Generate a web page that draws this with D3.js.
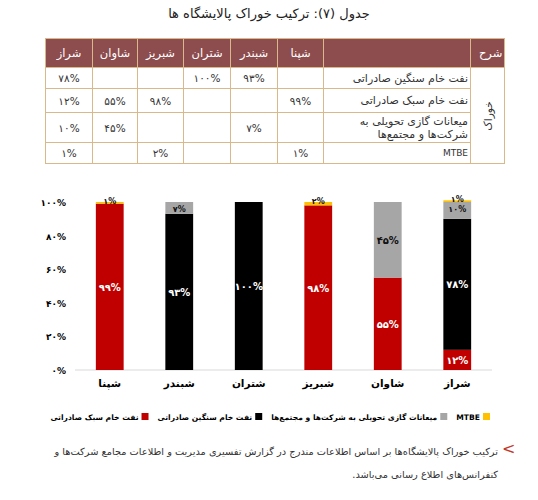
<!DOCTYPE html>
<html><head><meta charset="utf-8">
<script src="https://cdn.jsdelivr.net/npm/d3@7"></script>
<style>
body{margin:0;background:#fff;font-family:"DejaVu Sans","Noto Sans",sans-serif;}
#wrap{position:relative;width:538px;height:500px;overflow:hidden}
#title{position:absolute;top:6px;left:0;width:538px;text-align:center;font-size:13px;direction:rtl;color:#222}
table{position:absolute;left:45px;top:38px;border-collapse:collapse;table-layout:fixed;font-size:10.5px;color:#333}
td,th{border:1px solid #d9b98a;padding:0 2px;text-align:center}
th{background:#8d4c4d;color:#fff;font-weight:normal;height:28px;font-size:11.5px}
td.desc{text-align:right;direction:rtl;font-size:11px;line-height:13px}
#arrow{position:absolute;left:502px;top:439px;color:#c0392b;font-size:16px}
#note{position:absolute;left:40px;top:440px;width:458px;direction:rtl;font-size:9.8px;line-height:23px;color:#333}
svg{position:absolute;left:0;top:0}
</style></head><body>
<div id="wrap">
<div id="title">جدول (۷): ترکیب خوراک پالایشگاه ها</div>
<table id="tbl"></table>
<svg id="chart" width="538" height="500"></svg>
<div id="arrow">&lt;</div>
<div id="note">ترکیب خوراک پالایشگاه‌ها بر اساس اطلاعات مندرج در گزارش تفسیری مدیریت و اطلاعات مجامع شرکت‌ها و کنفرانس‌های اطلاع رسانی می‌باشد.</div>
</div>
<script>
const refineries = ["شپنا", "شبندر", "شتران", "شبریز", "شاوان", "شراز"];
const seriesNames = ["نفت خام سبک صادراتی", "نفت خام سنگین صادراتی", "میعانات گازی تحویلی به شرکت‌ها و مجتمع‌ها", "MTBE"];
const tableRowNames = ["نفت خام سنگین صادراتی", "نفت خام سبک صادراتی", "میعانات گازی تحویلی به شرکت‌ها و مجتمع‌ها", "MTBE"];
const lightCrude = [99, 0, 0, 98, 55, 12];
const heavyCrude = [0, 93, 100, 0, 0, 78];
const gasCond = [0, 7, 0, 0, 45, 10];
const mtbe = [1, 0, 0, 2, 0, 1];
const yTicks = [0, 20, 40, 60, 80, 100];
const colors = ["#c00000", "#000000", "#a6a6a6", "#ffc000"];

const fa = v => String(v).replace(/\d/g, d => "۰۱۲۳۴۵۶۷۸۹"[d]);
const pct = v => fa(v) + "%";

// table
const tbl = d3.select("#tbl");
const colW = [47, 45, 46, 47, 47, 46, 147, 30];
tbl.append("colgroup").selectAll("col").data(colW).join("col").style("width", d => d + "px");
const hdr = tbl.append("tr");
refineries.slice().reverse().forEach(r => hdr.append("th").text(r));
hdr.append("th");
hdr.append("th").style("text-align", "right").text("شرح");
const rowVals = [heavyCrude, lightCrude, gasCond, mtbe];
const rowH = [21, 24, 30, 21];
rowVals.forEach((vals, i) => {
  const tr = tbl.append("tr").style("height", rowH[i] + "px");
  vals.slice().reverse().forEach(v => tr.append("td").text(v ? pct(v) : ""));
  tr.append("td").attr("class", "desc").style("font-size", i == 3 ? "9px" : null).text(tableRowNames[i]);
  if (i == 0) tr.append("td").attr("rowspan", 4)
    .append("div").style("transform", "rotate(-90deg)").style("white-space", "nowrap").text("خوراک");
});

// chart
const svg = d3.select("#chart");
const x = d3.scaleBand().domain(refineries).range([75, 492]).paddingInner(0.6).paddingOuter(0.3);
const y = d3.scaleLinear().domain([0, 100]).range([370, 202]);
const data = refineries.map((r, i) => ({r, s0: lightCrude[i], s1: heavyCrude[i], s2: gasCond[i], s3: mtbe[i]}));
const stack = d3.stack().keys(["s0", "s1", "s2", "s3"])(data);

svg.append("line").attr("x1", 75).attr("x2", 492).attr("y1", y(0)).attr("y2", y(0)).attr("stroke", "#d9d9d9");
svg.append("g").selectAll("text").data(yTicks).join("text")
  .attr("x", 66).attr("y", d => y(d) + 4).attr("text-anchor", "end")
  .style("font-size", "9px").style("font-weight", "bold").text(d => pct(d));

stack.forEach((layer, k) => {
  const g = svg.append("g");
  g.selectAll("rect").data(layer).join("rect")
    .attr("x", d => x(d.data.r)).attr("width", x.bandwidth())
    .attr("y", d => y(d[1])).attr("height", d => y(d[0]) - y(d[1]))
    .attr("fill", colors[k]);
  g.selectAll("text").data(layer.filter(d => d[1] > d[0])).join("text")
    .attr("x", d => x(d.data.r) + x.bandwidth() / 2)
    .attr("y", d => k == 3 ? y(d[1]) + 2 : (d[1] - d[0] < 12 ? y(d[1]) + 10 : y((d[0] + d[1]) / 2) + 4))
    .attr("text-anchor", "middle").style("font-weight", "bold")
    .style("font-size", d => d[1] - d[0] < 12 ? "8px" : "10px")
    .attr("fill", k < 2 ? "#fff" : "#111")
    .text(d => pct(d[1] - d[0]));
});

svg.append("g").selectAll("text").data(refineries).join("text")
  .attr("x", d => x(d) + x.bandwidth() / 2).attr("y", 387).attr("text-anchor", "middle")
  .style("font-size", "10.5px").style("font-weight", "bold").text(d => d);

// legend laid out right-to-left starting from the MTBE item
const legend = svg.append("g");
let lx = 490;
seriesNames.slice().reverse().forEach((name, j) => {
  const i = seriesNames.length - 1 - j;
  legend.append("rect").attr("x", lx - 7).attr("y", 413).attr("width", 7).attr("height", 7).attr("fill", colors[i]);
  const t = legend.append("text").attr("x", lx - 10).attr("y", 420).attr("text-anchor", "start")
    .attr("direction", "rtl").style("font-size", "7.6px").style("font-weight", "bold").text(name);
  lx -= 10 + t.node().getComputedTextLength() + 9;
});
</script>
</body></html>
